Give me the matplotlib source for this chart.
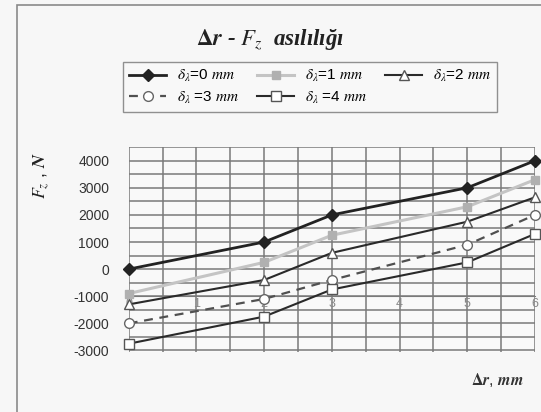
#######################################################################################
# Library
import matplotlib
matplotlib.use('Agg')
import matplotlib.pyplot as plt

from matplotlib.patches import Rectangle
from matplotlib.ticker import MultipleLocator
#######################################################################################

# -------------------------------------------------------------------------------------
# Data
a1dDeltaR = [0, 2, 3, 5, 6]
a1dFz_D0 = [0, 1000, 2000, 3000, 4000]
a1dFz_D1 = [-900, 250, 1250, 2300, 3300]
a1dFz_D2 = [-1300, -400, 600, 1750, 2650]
a1dFz_D3 = [-2000, -1100, -400, 900, 2000]
a1dFz_D4 = [-2750, -1750, -750, 250, 1300]

a1sLegend = [r'$\delta_\lambda$=0 $mm$', r'$\delta_\lambda$=1 $mm$', r'$\delta_\lambda$=2 $mm$',
             r'$\delta_\lambda$ =3 $mm$', r'$\delta_\lambda$ =4 $mm$']
a1iTickX = [0, 1, 2, 3, 4, 5, 6]
a1iTickY = [-3000, -2000, -1000, 0, 1000, 2000, 3000, 4000]

sTitle = r'$\mathbf{\Delta}\boldsymbol{r}$ - $\boldsymbol{F_z}$  asılılığı'
sLabelX = r'$\mathbf{\Delta}\boldsymbol{r}$, $\boldsymbol{mm}$'
sLabelY = r'$\boldsymbol{F_z}$ , $\boldsymbol{N}$'
# -------------------------------------------------------------------------------------

# -------------------------------------------------------------------------------------
# Fonts
plt.rcParams['font.family'] = ['Liberation Sans', 'DejaVu Sans']
plt.rcParams['mathtext.fontset'] = 'stix'
plt.rcParams['axes.unicode_minus'] = False
# -------------------------------------------------------------------------------------

# -------------------------------------------------------------------------------------
# Figure and axes
oFig = plt.figure(figsize=(5.41, 4.12), dpi=100, facecolor='#f7f7f7')
oAx = oFig.add_axes([0.238, 0.146, 0.751, 0.497])
oAx.set_facecolor('#f9f9f9')

# Chart border (scanned frame)
oFig.patches.append(Rectangle((0.031, -0.05), 1.0, 1.038, transform=oFig.transFigure,
                              fill=False, edgecolor='#8a8a8a', linewidth=1.2))
# -------------------------------------------------------------------------------------

# -------------------------------------------------------------------------------------
# Series
oL0, = oAx.plot(a1dDeltaR, a1dFz_D0, color='#222222', lw=2.0, marker='D', ms=6,
                mfc='#222222', mec='#222222', clip_on=False, zorder=6)
oL1, = oAx.plot(a1dDeltaR, a1dFz_D1, color='#c4c4c4', lw=2.2, marker='s', ms=6,
                mfc='#b0b0b0', mec='#b0b0b0', clip_on=False, zorder=5)
oL2, = oAx.plot(a1dDeltaR, a1dFz_D2, color='#2a2a2a', lw=1.5, marker='^', ms=7,
                mfc='white', mec='#555555', clip_on=False, zorder=5)
oL3, = oAx.plot(a1dDeltaR, a1dFz_D3, color='#505050', lw=1.6, ls=(0, (4, 3)), marker='o', ms=7,
                mfc='white', mec='#666666', clip_on=False, zorder=5)
oL4, = oAx.plot(a1dDeltaR, a1dFz_D4, color='#2a2a2a', lw=1.5, marker='s', ms=7,
                mfc='white', mec='#555555', clip_on=False, zorder=5)
# -------------------------------------------------------------------------------------

# -------------------------------------------------------------------------------------
# Axes limits, grid and ticks
oAx.set_xlim(0, 6)
oAx.set_ylim(-3050, 4500)
oAx.xaxis.set_minor_locator(MultipleLocator(0.5))
oAx.yaxis.set_minor_locator(MultipleLocator(500))
oAx.set_xticks(a1iTickX)
oAx.set_yticks(a1iTickY)
oAx.grid(True, which='both', color='#7a7a7a', lw=1.1)
oAx.set_axisbelow(True)

for sSide in ['top', 'right', 'left']:
    oAx.spines[sSide].set_visible(False)
oAx.spines['bottom'].set_position(('data', -1000))
oAx.spines['bottom'].set_color('#7a7a7a')

oAx.tick_params(axis='both', which='both', length=0)
oAx.tick_params(axis='y', labelsize=10, colors='#333333', pad=14)
oAx.tick_params(axis='x', labelsize=9, colors='#888888', pad=1)
# -------------------------------------------------------------------------------------

# -------------------------------------------------------------------------------------
# Texts
oFig.text(0.5, 0.905, sTitle, ha='center', va='center', fontsize=16.5,
          family='Liberation Serif', style='italic', weight='bold', color='#222222')
oAx.set_ylabel(sLabelY, fontsize=13, color='#222222', labelpad=4)
oAx.yaxis.set_label_coords(-0.19, 0.86)
oFig.text(0.92, 0.078, sLabelX, ha='center', va='center', fontsize=11.5, color='#333333')
# -------------------------------------------------------------------------------------

# -------------------------------------------------------------------------------------
# Legend (row-wise order)
a1oHandle = [oL0, oL3, oL1, oL4, oL2]
a1sLabel = [a1sLegend[0], a1sLegend[3], a1sLegend[1], a1sLegend[4], a1sLegend[2]]
oLeg = oFig.legend(a1oHandle, a1sLabel, ncol=3, loc='center', bbox_to_anchor=(0.573, 0.789),
                   prop={'size': 11}, frameon=True, fancybox=False, edgecolor='#777777',
                   handlelength=2.4, handletextpad=0.7, columnspacing=1.2,
                   labelspacing=0.35, borderpad=0.4)
oLeg.get_frame().set_facecolor('#f9f9f9')
oLeg.get_frame().set_linewidth(1.0)
# -------------------------------------------------------------------------------------

oFig.savefig('out.png', dpi=100, facecolor=oFig.get_facecolor())
